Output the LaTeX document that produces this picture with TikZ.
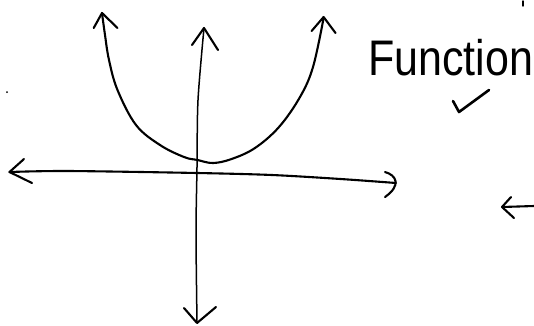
\documentclass[tikz,border=0pt]{standalone}
\usepackage{fontspec}
\setmainfont{Liberation Sans}
\begin{document}
\begin{tikzpicture}[x=1pt,y=-1pt,
  ink/.style={line width=2.1pt,line cap=round,line join=round,black},
  thin ink/.style={line width=1.5pt,line cap=round,line join=round,black}]
\useasboundingbox (0,0) rectangle (534,325);
% parabola
\draw[ink] plot[smooth,tension=0.6] coordinates {(102,13) (105,35) (109,60) (117.5,90) (136,125) (160,145) (184,157) (197.5,160) (213,163) (231.6,159) (255,148) (279,127) (300,97) (313,67) (323.6,18)};
\draw[ink] (93.7,28) -- (102,13) -- (117.5,28);
\draw[ink] (311.6,31) -- (323.6,17) -- (335.5,33);
% vertical axis
\draw[thin ink] plot[smooth] coordinates {(204,28) (198,100) (197,167) (196,233) (197,322)};
\draw[ink] (192,45) -- (204,28) -- (218,50);
\draw[ink] (184,308) -- (197,323) -- (216,307);
% horizontal axis
\draw[ink] plot[smooth] coordinates {(9.5,172) (68,171) (197.5,173) (272,175) (340.6,179) (396,183)};
\draw[ink] (24,159) -- (9.5,172) -- (32,183);
\draw[ink] (385,172) .. controls (396,175) and (402,185) .. (385,197);
% label
\node[inner sep=0pt,anchor=west,xscale=0.86] (lbl) at (368,58) {\fontsize{50}{60}\selectfont Function};
% check mark
\draw[ink,line width=2.6pt] (453,101) -- (459,112) -- (489,90);
% small arrow at right edge
\draw[ink] (502,207) -- (534,206);
\draw[ink] (511,197) -- (502,207) -- (514,218);
% specks
\fill (7,92) circle (1pt);
\draw[ink,line width=1.4pt] (523,1) -- (523,6);
\end{tikzpicture}
\end{document}
